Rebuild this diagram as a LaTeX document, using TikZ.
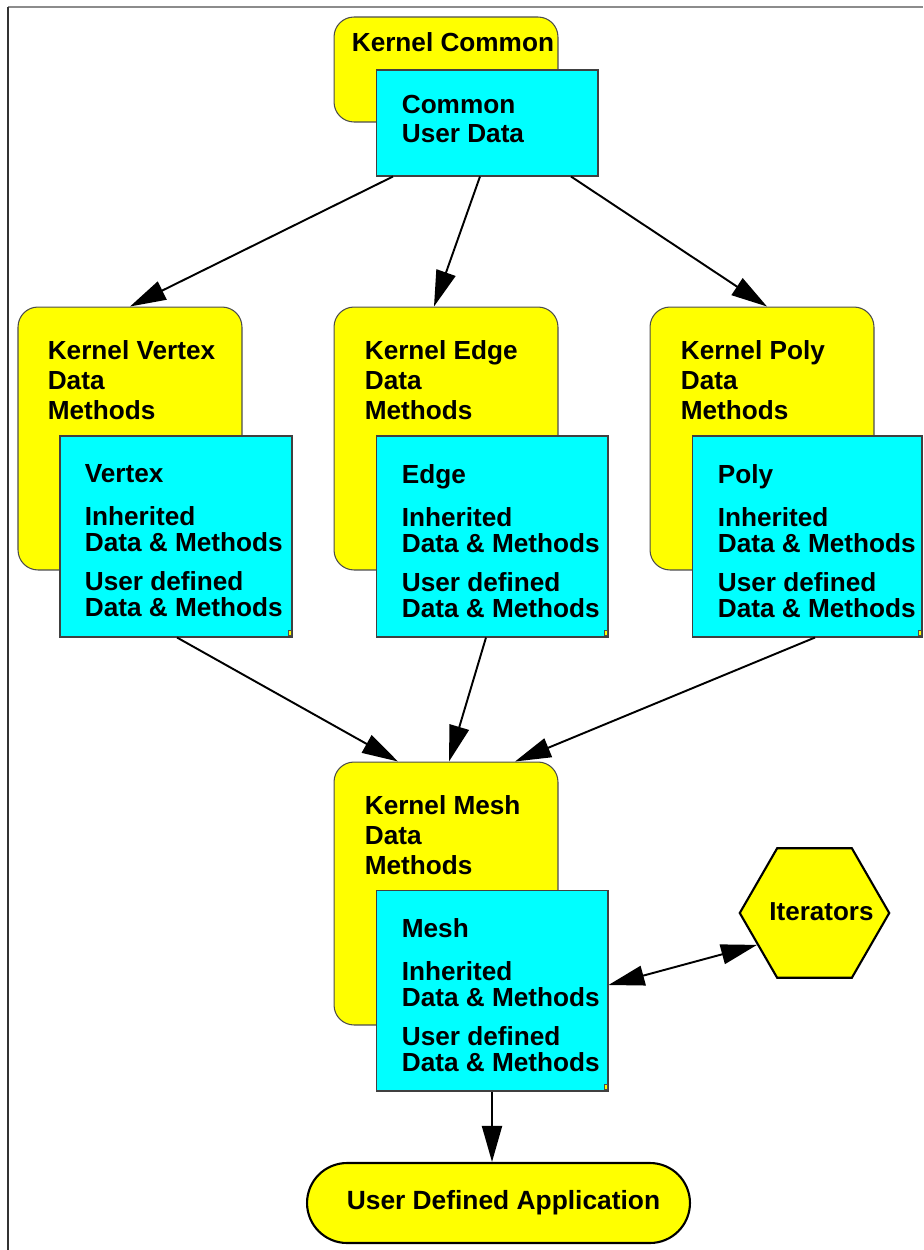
\documentclass[tikz,border=0pt]{standalone}
\usepackage{fontspec}
\setmainfont{Liberation Sans}
\usetikzlibrary{arrows.meta, calc, shapes.geometric}
\definecolor{kyellow}{RGB}{255,255,0}
\definecolor{ucyan}{RGB}{0,255,255}

\begin{document}
\begin{tikzpicture}[
        x=0.02cm, y=-0.02cm, % one unit is one pixel of the original, y runs down
        kernel/.style={draw=black!70, fill=kyellow, line width=0.6pt, rounded corners=0.4cm,
          minimum width=4.48cm, minimum height=5.26cm, inner sep=0},
        user/.style={draw=black!75, fill=ucyan, line width=0.6pt,
          minimum width=4.64cm, minimum height=4.02cm, inner sep=0},
        ktxt/.style={anchor=north west, align=left, inner sep=0,
          font=\fontsize{14.9}{17}\selectfont\bfseries},
        utxt/.style={anchor=north west, align=left, inner sep=0,
          font=\fontsize{14.9}{14.8}\selectfont\bfseries},
        handle/.style={draw=black!70, fill=kyellow, line width=0.3pt},
        conn/.style={->, line width=1.1pt}, % arrow style
        >={Triangle[length=0.72cm, width=0.4cm]} % arrowhead style
      ]
      \useasboundingbox (0,0) rectangle (923,1250);

      % Frame
      \draw [black!45, line width=1.1pt] (8,7) -- (923,7);
      \draw [black!80, line width=1.1pt] (8,7) -- (8,1250);

      % Nodes
      \node (kcommon) [kernel, minimum height=2.1cm] at (446,69.5) {};
      \node (kcommon-t) [ktxt] at ($(kcommon.north west)+(18,16)$) {Kernel Common};
      \node (common) [user, minimum width=4.44cm, minimum height=2.12cm] at (487,123) {};
      \node (common-t) [ktxt] at ($(common.north west)+(26,25)$) {Common\\User Data};

      \node (kvertex) [kernel] at (130,438.5) {};
      \node (kvertex-t) [ktxt] at ($(kvertex.north west)+(30,34)$) {Kernel Vertex\\Data\\Methods};
      \node (vertex) [user] at (176,536.5) {};
      \node (vertex-t) [utxt] at ($(vertex.north west)+(25,29)$)
        {Vertex\\[0.34cm]Inherited\\Data \& Methods\\[0.26cm]User defined\\Data \& Methods};

      \node (kedge) [kernel] at (446,438.5) {};
      \node (kedge-t) [ktxt] at ($(kedge.north west)+(31,34)$) {Kernel Edge\\Data\\Methods};
      \node (edge) [user] at (492,536.5) {};
      \node (edge-t) [utxt] at ($(edge.north west)+(26,29)$)
        {Edge\\[0.34cm]Inherited\\Data \& Methods\\[0.26cm]User defined\\Data \& Methods};

      \node (kpoly) [kernel] at (762,438.5) {};
      \node (kpoly-t) [ktxt] at ($(kpoly.north west)+(31,34)$) {Kernel Poly\\Data\\Methods};
      \node (poly) [user, minimum width=4.6cm] at (807,536.5) {};
      \node (poly-t) [utxt] at ($(poly.north west)+(26,29)$)
        {Poly\\[0.34cm]Inherited\\Data \& Methods\\[0.26cm]User defined\\Data \& Methods};

      \node (kmesh) [kernel] at (446,893.5) {};
      \node (kmesh-t) [ktxt] at ($(kmesh.north west)+(31,34)$) {Kernel Mesh\\Data\\Methods};
      \node (mesh) [user] at (492,990.5) {};
      \node (mesh-t) [utxt] at ($(mesh.north west)+(26,29)$)
        {Mesh\\[0.34cm]Inherited\\Data \& Methods\\[0.26cm]User defined\\Data \& Methods};

      \node (iter) [regular polygon, regular polygon sides=6, draw, fill=kyellow, line width=1.2pt,
        minimum size=2.99cm, inner sep=0] at (814.5,913) {};
      \node (iter-t) [font=\fontsize{14.8}{17}\selectfont\bfseries] at ($(iter.center)+(7,-1)$) {Iterators};
      \node (app) [draw, fill=kyellow, line width=1.2pt, rounded corners=0.8cm,
        minimum width=7.66cm, minimum height=1.6cm, font=\fontsize{15}{17}\selectfont\bfseries]
        at (498.5,1203) {\hspace{0.2cm}User Defined Application};

      % little corner marks
      \draw [handle] ($(vertex.south east)+(-1,-2)$) rectangle ++(-3,-5);
      \draw [handle] ($(edge.south east)+(-1,-2)$) rectangle ++(-3,-5);
      \draw [handle] ($(poly.south east)+(-1,-2)$) rectangle ++(-3,-5);
      \draw [handle] ($(mesh.south east)+(-1,-2)$) rectangle ++(-3,-5);

      % Arrows
      \draw [conn] ($(common.south)+(-94,0)$) -- (kvertex.north);
      \draw [conn] ($(common.south)+(-7,0)$) -- ($(kedge.north)+(-12,0)$);
      \draw [conn] ($(common.south)+(84,0)$) -- ($(kpoly.north)+(5,0)$);
      \draw [conn] ($(vertex.south)+(1,0)$) -- ($(kmesh.north)+(-48,0)$);
      \draw [conn] ($(edge.south)+(-6,0)$) -- ($(kmesh.north)+(3,0)$);
      \draw [conn] ($(poly.south)+(8,0)$) -- ($(kmesh.north)+(69,0)$);
      \draw [conn] (mesh.south) -- (mesh.south |- app.north);
      \draw [conn, <->] ($(mesh.east)+(0,-5.5)$) -- (iter.209);

    \end{tikzpicture}
\end{document}
